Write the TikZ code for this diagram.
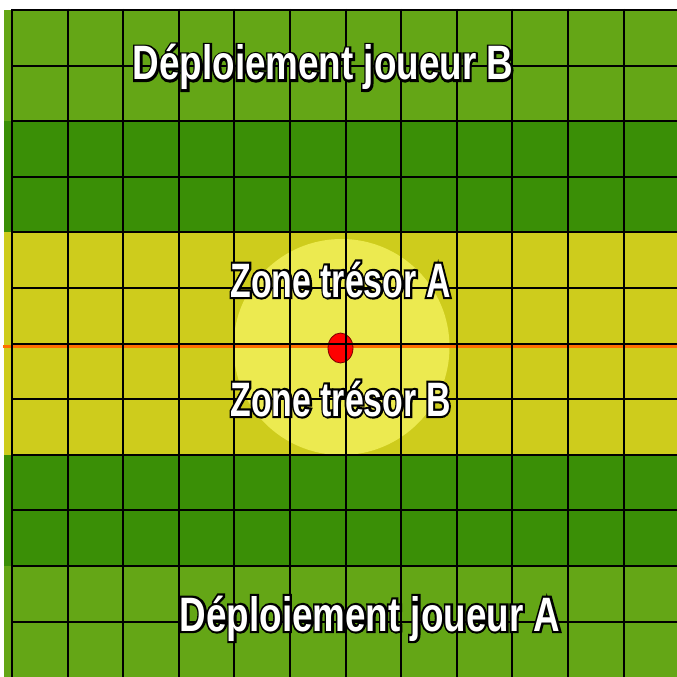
\documentclass[tikz,border=0pt]{standalone}
\usepackage{fontspec}
\usetikzlibrary{shapes.geometric}
\newfontfamily\labelfont[FakeStretch=0.8]{Liberation Sans Bold}
\newfontfamily\edgefont[FakeStretch=0.8,FakeBold=9]{Liberation Sans Bold}
\newcommand{\outlined}[1]{\rlap{\edgefont\color{black}#1}{\labelfont\color{white}#1}}
\definecolor{lightgrass}{RGB}{100,166,22}
\definecolor{darkgrass}{RGB}{58,143,6}
\definecolor{olivezone}{RGB}{206,204,28}
\definecolor{treasure}{RGB}{236,234,80}
\definecolor{midline}{RGB}{255,110,0}
\definecolor{dotedge}{RGB}{120,0,0}
\tikzset{
  bigtitle/.style={anchor=base, inner sep=0pt,
    font=\fontsize{46}{50}\selectfont, yscale=1.05},
  zonetitle/.style={anchor=base, inner sep=0pt,
    font=\fontsize{46}{50}\selectfont, xscale=0.92, yscale=1.05},
  gridline/.style={black, line width=2.1pt},
}
\begin{document}
\begin{tikzpicture}[x=1pt, y=-1pt]
\useasboundingbox (0,0) rectangle (677,677);
\fill[white] (0,0) rectangle (677,677);
% bands
\fill[lightgrass] (4,10) rectangle (677,121);
\fill[darkgrass] (4,121) rectangle (677,232);
\fill[olivezone] (4,232) rectangle (677,455);
\fill[darkgrass] (4,455) rectangle (677,566);
\fill[lightgrass] (4,566) rectangle (677,677);
% treasure circle
\fill[treasure] (341.5,347) circle[radius=108];
% middle line
\draw[midline, line width=2.2pt] (3,346.5) -- (677,346.5);
% red dot
\node[ellipse, minimum width=25pt, minimum height=30pt, inner sep=0pt, fill=red, draw=dotedge, line width=0.8pt] (dot) at (340.5,348) {};
% grid
\foreach \k in {0,...,11} {
  \draw[gridline] ({12+55.6*\k},9) -- ({12+55.6*\k},677);
  \draw[gridline] (12,{10+55.6*\k}) -- (677,{10+55.6*\k});
}
% texts
\node[bigtitle] (depB) at (323,80) {\outlined{Déploiement joueur B}};
\node[bigtitle] (depA) at (370,631) {\outlined{Déploiement joueur A}};
\node[zonetitle] (zoneA) at (340.5,297) {\outlined{Zone trésor A}};
\node[zonetitle] (zoneB) at (340.5,416) {\outlined{Zone trésor B}};
\end{tikzpicture}
\end{document}
